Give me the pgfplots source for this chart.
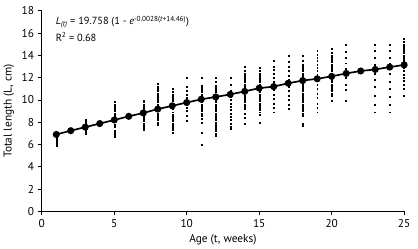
\documentclass[border=0pt]{standalone}
\usepackage{pgfplots}
\pgfplotsset{compat=1.18}
\usepackage{fontspec}
\setmainfont{PT Sans}

\begin{document}
\fontsize{11}{13}\selectfont
\begin{tikzpicture}
\begin{axis}[
  at={(0pt,0pt)}, anchor=south west,
  scale only axis,
  width=367pt, height=203pt,
  xmin=0, xmax=25, ymin=0, ymax=18,
  axis lines*=left,
  axis line style={line width=0.9pt},
  xtick={0,5,10,15,20,25},
  ytick={0,2,...,18},
  tick align=outside,
  tick style={black, line width=0.9pt},
  major tick length=4pt,
  /pgf/number format/assume math mode=true,
  ticklabel style={font=\fontsize{11.5}{13}\selectfont},
  xlabel={Age (t, weeks)},
  ylabel={Total length (L, cm)},
  label style={font=\fontsize{11.5}{13}\selectfont},
  clip=false,
]
% individual fish
\addplot[only marks, mark=square*, mark size=0.5pt, black] coordinates {
  (1,5.9) (1,6.0) (1,6.1) (1,6.2) (1,6.3) (1,6.4) (1,6.5) (1,6.6) (1,6.7)
  (3,7.0) (3,7.1) (3,7.2) (3,7.3) (3,7.4) (3,7.8) (3,7.9) (3,8.0) (3,8.1) (3,8.2)
  (5,6.7) (5,6.8) (5,6.9) (5,7.0) (5,7.1) (5,7.2) (5,7.6) (5,7.8) (5,8.5) (5,8.6)
  (5,8.8) (5,9.0) (5,9.2) (5,9.4) (5,9.6) (5,9.8)
  (7,7.3) (7,7.5) (7,7.7) (7,7.9) (7,8.1) (7,8.3) (7,8.5) (7,8.7) (7,9.0) (7,9.2)
  (7,9.4) (7,9.6) (7,9.8) (7,9.9)
  (8,7.8) (8,8.0) (8,8.2) (8,8.4) (8,8.6) (8,8.8) (8,9.0) (8,9.4) (8,9.6) (8,9.8)
  (8,10.0) (8,10.2) (8,10.4) (8,10.6) (8,10.8) (8,11.0) (8,11.2) (8,11.5)
  (9,7.1) (9,7.3) (9,7.5) (9,7.7) (9,7.9) (9,8.1) (9,8.3) (9,8.5) (9,8.7) (9,8.9)
  (9,9.2) (9,9.7) (9,9.9) (9,10.1) (9,10.3) (9,10.5) (9,10.7) (9,11.0)
  (10,8.15) (10,8.6) (10,9.0) (10,9.3) (10,10.2) (10,10.5) (10,10.8) (10,11.2) (10,12.0)
  (11,5.95) (11,7.1) (11,8.0) (11,8.3) (11,8.6) (11,8.8) (11,9.0) (11,9.2) (11,9.4)
  (11,9.6) (11,9.8) (11,10.3) (11,10.5) (11,10.7) (11,10.9) (11,11.1) (11,11.3) (11,12.0)
  (12,6.8) (12,7.0) (12,7.2) (12,7.4) (12,7.6) (12,7.8) (12,8.0) (12,8.2) (12,8.4)
  (12,8.6) (12,8.8) (12,9.0) (12,9.2) (12,9.4) (12,9.6) (12,9.8) (12,10.0) (12,10.5)
  (12,10.7) (12,10.9) (12,11.1) (12,11.3) (12,11.6) (12,12.0)
  (13,7.4) (13,7.6) (13,7.9) (13,8.2) (13,8.5) (13,8.8) (13,9.1) (13,9.4) (13,9.7)
  (13,10.0) (13,10.3) (13,10.8) (13,11.4) (13,12.0)
  (14,7.9) (14,8.4) (14,8.8) (14,9.2) (14,9.4) (14,9.6) (14,9.8) (14,10.0) (14,10.2)
  (14,10.4) (14,11.0) (14,11.2) (14,11.4) (14,11.6) (14,11.8) (14,12.0) (14,12.2)
  (14,12.4) (14,12.6) (14,13.0)
  (15,8.0) (15,8.7) (15,8.9) (15,9.1) (15,9.3) (15,9.5) (15,9.7) (15,9.9) (15,10.1)
  (15,10.3) (15,10.5) (15,10.7) (15,10.9) (15,11.4) (15,11.6) (15,11.8) (15,12.0)
  (15,12.2) (15,12.4) (15,12.6) (15,12.86)
  (16,8.9) (16,9.3) (16,9.7) (16,10.1) (16,10.5) (16,10.9) (16,11.6) (16,12.0)
  (16,12.4) (16,12.7) (16,13.0) (16,13.5)
  (17,9.2) (17,9.6) (17,10.0) (17,10.4) (17,10.8) (17,11.2) (17,11.8) (17,12.2)
  (17,12.6) (17,13.0) (17,13.4) (17,14.0)
  (18,7.7) (18,7.9) (18,8.6) (18,8.8) (18,9.0) (18,9.2) (18,9.4) (18,9.6) (18,9.8)
  (18,10.0) (18,10.2) (18,10.4) (18,10.6) (18,10.8) (18,11.0) (18,11.2) (18,11.4)
  (18,12.0) (18,12.2) (18,12.4) (18,12.6) (18,12.8) (18,13.0) (18,13.2) (18,13.5) (18,14.0)
  (19,8.9) (19,9.3) (19,9.7) (19,10.2) (19,10.6) (19,11.0) (19,11.4) (19,12.3)
  (19,12.6) (19,12.9) (19,13.2) (19,13.5) (19,13.8) (19,14.1) (19,14.4)
  (20,9.9) (20,10.4) (20,10.6) (20,10.8) (20,11.0) (20,11.2) (20,11.4) (20,11.6)
  (20,11.8) (20,12.4) (20,12.6) (20,12.8) (20,13.0) (20,13.2) (20,13.4) (20,13.6)
  (20,13.8) (20,14.0) (20,14.2) (20,14.56)
  (21,9.9) (21,10.9) (21,11.4) (21,12.0) (21,12.8) (21,13.3) (21,13.8) (21,14.3) (21,15.0)
  (23,8.9) (23,9.6) (23,10.4) (23,11.2) (23,11.8) (23,12.4) (23,13.2) (23,13.8)
  (23,14.4) (23,15.0)
  (24,8.9) (24,9.6) (24,10.3) (24,11.0) (24,11.6) (24,12.4) (24,13.3) (24,13.8)
  (24,14.4) (24,15.0)
  (25,10.4) (25,11.0) (25,11.4) (25,11.7) (25,12.0) (25,12.3) (25,12.6) (25,12.9)
  (25,13.4) (25,13.6) (25,13.8) (25,14.0) (25,14.2) (25,14.4) (25,14.6) (25,14.8)
  (25,15.0) (25,15.2) (25,15.5)
};
% weekly mean growth curve
\addplot[black, line width=1.7pt, mark=*, mark size=2.7pt] coordinates {
  (1,6.90) (2,7.24) (3,7.56) (4,7.88) (5,8.20) (6,8.53) (7,8.83) (8,9.18)
  (9,9.47) (10,9.77) (11,10.06) (12,10.27) (13,10.50) (14,10.77) (15,11.06)
  (16,11.20) (17,11.50) (18,11.74) (19,11.90) (20,12.12) (21,12.38) (22,12.60)
  (23,12.74) (24,12.95) (25,13.15)
};
\node[anchor=west, inner sep=0pt, font=\fontsize{10.5}{12}\selectfont] at (axis cs:0.95,17.0)
  {\textit{L}\textsubscript{\textit{(t)}} = 19.758 (1 - \textit{e}\textsuperscript{-0.0028(\textit{t}+14.46)})};
\node[anchor=west, inner sep=0pt, font=\fontsize{10.5}{12}\selectfont] at (axis cs:0.95,15.65)
  {R\textsuperscript{2} = 0.68};
\end{axis}
\path (-37pt,-36pt) rectangle (381pt,214pt);
\end{tikzpicture}
\end{document}
